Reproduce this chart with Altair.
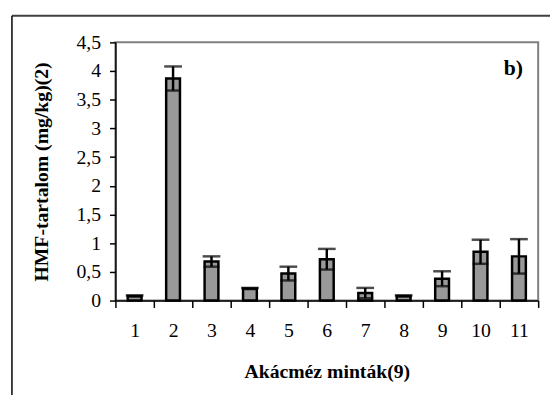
import altair as alt
import pandas as pd

samples = ["1", "2", "3", "4", "5", "6", "7", "8", "9", "10", "11"]
values = [0.08, 3.87, 0.68, 0.21, 0.47, 0.72, 0.13, 0.08, 0.38, 0.85, 0.77]
errors = [0.01, 0.21, 0.09, 0.01, 0.12, 0.18, 0.09, 0.01, 0.13, 0.21, 0.30]
y_ticks = [0.0, 0.5, 1.0, 1.5, 2.0, 2.5, 3.0, 3.5, 4.0, 4.5]

df = pd.DataFrame({"s": samples, "v": values, "e": errors})
df["lo"] = df["v"] - df["e"]
df["hi"] = df["v"] + df["e"]

FONT = "Liberation Serif"

xaxis = alt.Axis(labelAngle=0, tickBand="extent", tickSize=7, labelFont=FONT,
                 labelFontSize=20, labelPadding=13, titlePadding=22, titleFontSize=20)
yaxis = alt.Axis(values=y_ticks, grid=False, tickSize=6, labelPadding=9,
                 labelFont=FONT, labelFontSize=20, labelOverlap=False,
                 labelExpr="replace(format(datum.value, '~g'), '.', ',')",
                 titleX=-69, titleY=131, titleAlign="center",
                 titleBaseline="alphabetic", titleFontSize=20)
xenc = alt.X("s:N", sort=samples, title="Akácméz minták(9)",
             scale=alt.Scale(paddingInner=0, paddingOuter=0), axis=xaxis)
yscale = alt.Scale(domain=[0, 4.5], nice=False, zero=True)
ytitle = "HMF-tartalom (mg/kg)(2)"

bars = alt.Chart(df).mark_bar(size=14, color="#999999", stroke="black", strokeWidth=2.5).encode(
    x=xenc,
    y=alt.Y("v:Q", scale=yscale, title=ytitle, axis=yaxis),
)

rules = alt.Chart(df).mark_rule(color="black", strokeWidth=2.5).encode(
    x=xenc, y=alt.Y("lo:Q", scale=yscale, title=ytitle, axis=yaxis), y2="hi:Q"
)
cap_hi = alt.Chart(df).mark_tick(color="black", size=18, thickness=2.5).encode(
    x=xenc, y=alt.Y("hi:Q", scale=yscale, title=ytitle, axis=yaxis)
)
cap_lo = alt.Chart(df).mark_tick(color="black", size=16, thickness=2.5).encode(
    x=xenc, y=alt.Y("lo:Q", scale=yscale, title=ytitle, axis=yaxis)
)

label = alt.Chart(pd.DataFrame({"t": ["b)"]})).mark_text(
    font=FONT, fontSize=22, fontWeight="bold", align="left", baseline="alphabetic"
).encode(x=alt.value(394), y=alt.value(33), text="t:N")

frame_top = alt.Chart(pd.DataFrame({"a": [0]})).mark_rule(color="#404040", strokeWidth=2).encode(
    x=alt.value(-105), x2=alt.value(460), y=alt.value(-27)
)
frame_left = alt.Chart(pd.DataFrame({"a": [0]})).mark_rule(color="black", strokeWidth=1.5).encode(
    x=alt.value(-105), y=alt.value(-27), y2=alt.value(120 + 262)
)

chart = alt.layer(bars, rules, cap_hi, cap_lo, label, frame_top, frame_left).properties(
    width=429, height=262,
    autosize=alt.AutoSizeParams(type="none"),
    padding={"left": 109, "top": 32, "right": 12, "bottom": 93},
).configure_view(stroke="#808080", strokeWidth=2).configure_axis(
    labelColor="black", titleFont=FONT, titleFontWeight="bold", titleColor="black",
    domainColor="black", tickColor="black", domainWidth=1.5, tickWidth=1.5,
)

chart.save("out.html", embed_options={"renderer": "svg", "actions": False})
